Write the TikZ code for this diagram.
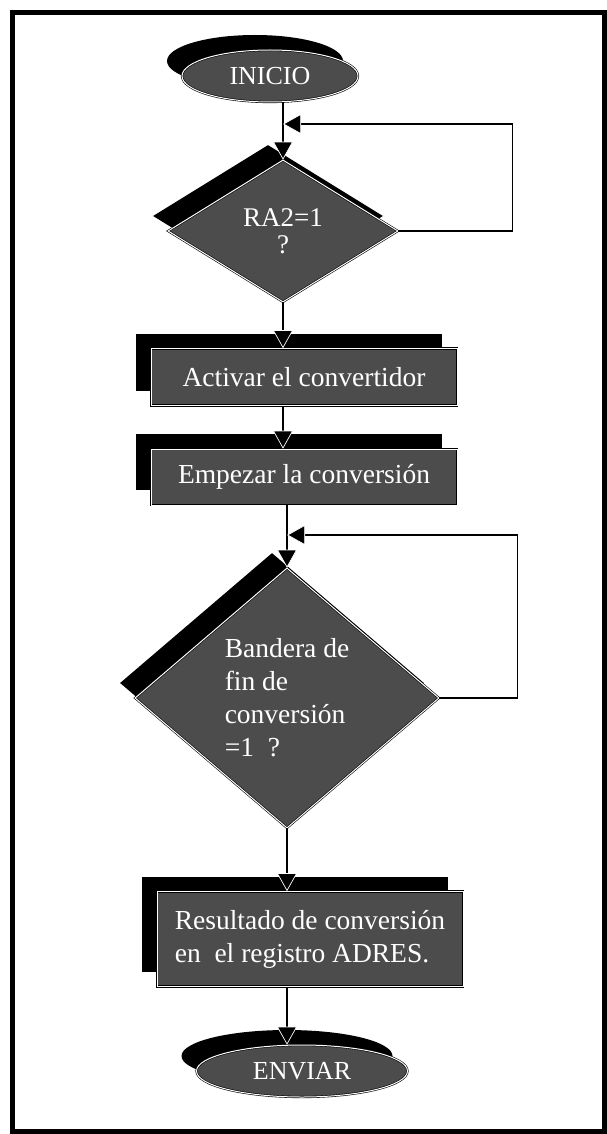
\documentclass[tikz,border=0pt]{standalone}
\usepackage{fontspec}
\setmainfont{Liberation Serif}
\usetikzlibrary{shapes.geometric, shadows, arrows.meta, positioning}
\tikzset{
>={Triangle[width=20pt,length=18pt,color=white,fill=black,line width=.7pt]}, % big filled arrow heads, white rim shows them on the shadows
flow/.style={->, line width=1.3pt}, % connectors between the blocks
back/.style={->, line width=1.1pt}, % the lines going back up
block/.style={draw=black, double=white, double distance=1pt, line width=.6pt,
  fill=black!70, text=white, inner sep=0pt,
  font=\fontsize{27.5}{33}\selectfont,
  drop shadow={shadow xshift=-15pt, shadow yshift=15pt, fill=black, opacity=1}}, % dark block with black shadow
terminal/.style={block, ellipse}, % start and end
process/.style={block, rectangle},
decision/.style={block, diamond, align=center},
}

\begin{document}
\begin{tikzpicture}[x=1pt, y=-1pt]
            \useasboundingbox (0,0) rectangle (607,1134);
            \draw[line width=5pt] (12,13) rectangle (604,1131);
            \node[terminal, minimum width=176pt, minimum height=52pt, font=\fontsize{26}{30}\selectfont] (inicio) at (270,76) {INICIO};
            \node[decision, minimum width=230pt, minimum height=142pt, font=\fontsize{27}{27}\selectfont] (d1) at (283,231) {RA2=1\\?};
            \node[process, minimum width=306pt, minimum height=57pt] (act) at (304,377) {Activar el convertidor};
            \node[process, minimum width=306pt, minimum height=56pt] (emp) at (304,477) {Empezar la conversión};
            \node[decision, minimum width=304pt, minimum height=260pt, align=left] (d2) at (287,698) {Bandera de\\fin de\\conversión\\=1\ \ ?};
            \node[process, minimum width=306pt, minimum height=95pt, align=left] (res) at (310,939) {Resultado de conversión\\en\ \ el registro ADRES.};
            \node[terminal, minimum width=211pt, minimum height=52pt, font=\fontsize{26}{30}\selectfont] (fin) at (302,1071) {ENVIAR};
            \coordinate (j1) at (283,124);
            \coordinate (j2) at (287,535);
            \draw[flow] (inicio.south -| d1.north) -- (d1.north);
            \draw[back] (d1.east) -- ++(114,0) |- (j1);
            \draw[flow] (d1.south) -- (d1.south |- act.north);
            \draw[flow] (act.south -| d1.south) -- (emp.north -| d1.south);
            \draw[flow] (emp.south -| d2.north) -- (d2.north);
            \draw[back] (d2.east) -- ++(78,0) |- (j2);
            \draw[flow] (d2.south) -- (d2.south |- res.north);
            \draw[flow] (res.south -| d2.south) -- (fin.north -| d2.south);
\end{tikzpicture}
\end{document}
